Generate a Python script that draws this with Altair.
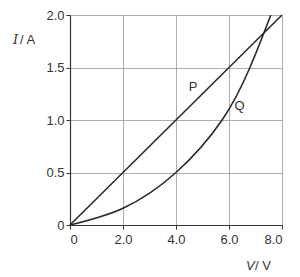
import altair as alt
import pandas as pd

# Line P (straight) and curve Q readings
p_v = [0.0, 8.0]
p_i = [0.0, 2.0]
q_v = [0.0, 2.0, 4.0, 5.74, 6.79, 7.58]
q_i = [0.0, 0.16, 0.5, 1.0, 1.5, 2.0]
x_ticks = [0, 2, 4, 6, 8]
y_ticks = [0, 0.5, 1.0, 1.5, 2.0]
label_names = ["P", "Q"]
label_v = [4.64, 6.4]
label_i = [1.31, 1.13]

df_p = pd.DataFrame({"V": p_v, "I": p_i})
df_q = pd.DataFrame({"V": q_v, "I": q_i})
df_lab = pd.DataFrame({"name": label_names, "V": label_v, "I": label_i})

FONT = "Liberation Sans"
xs = alt.Scale(domain=[0, 8], nice=False, zero=True)
ys = alt.Scale(domain=[0, 2], nice=False, zero=True)

xax = alt.Axis(values=x_ticks, title=None, grid=True, gridColor="#999", gridWidth=0.8,
               domainColor="#333", domainWidth=1.2, tickColor="#333", tickSize=4,
               labelExpr="datum.value == 0 ? '0' : format(datum.value, '.1f')",
               labelFont=FONT, labelFontSize=13, labelColor="#333", labelPadding=4)
yax = alt.Axis(values=y_ticks, title=None, grid=True, gridColor="#999", gridWidth=0.8,
               domainColor="#333", domainWidth=1.2, tickColor="#333", tickSize=4,
               labelExpr="datum.value == 0 ? '0' : format(datum.value, '.1f')",
               labelFont=FONT, labelFontSize=13, labelColor="#333", labelPadding=2)

line_p = alt.Chart(df_p).mark_line(color="#2a2a2a", strokeWidth=1.6).encode(
    x=alt.X("V:Q", scale=xs, axis=xax), y=alt.Y("I:Q", scale=ys, axis=yax))
line_q = alt.Chart(df_q).mark_line(color="#2a2a2a", strokeWidth=1.6, interpolate="natural", clip=True).encode(
    x=alt.X("V:Q", scale=xs), y=alt.Y("I:Q", scale=ys))
labels = alt.Chart(df_lab).mark_text(font=FONT, fontSize=13, color="#333").encode(
    x=alt.X("V:Q", scale=xs), y=alt.Y("I:Q", scale=ys), text="name:N")

t_df = pd.DataFrame({"a": [0]})
ytitle_i = alt.Chart(t_df).mark_text(font="DejaVu Serif", fontStyle="italic", fontSize=13, color="#333", align="left").encode(
    x=alt.value(-57), y=alt.value(25), text=alt.value("I"))
ytitle_a = alt.Chart(t_df).mark_text(font=FONT, fontSize=13, color="#333", align="left").encode(
    x=alt.value(-50), y=alt.value(25), text=alt.value("/ A"))
xtitle = alt.Chart(t_df).mark_text(font=FONT, fontStyle="italic", fontSize=13, color="#333", align="left").encode(
    x=alt.value(176), y=alt.value(251), text=alt.value("V"))
xtitle2 = alt.Chart(t_df).mark_text(font=FONT, fontSize=13, color="#333", align="left").encode(
    x=alt.value(185), y=alt.value(251), text=alt.value("/ V"))

chart = alt.layer(line_p, line_q, labels, ytitle_i, ytitle_a, xtitle, xtitle2).properties(
    width=212, height=210,
    autosize=alt.AutoSizeParams(type="none"),
    padding={"left": 70, "top": 15, "right": 18, "bottom": 52},
    background="white",
).configure_view(stroke=None)

chart.save("out.html", embed_options={"renderer": "svg", "actions": False})
